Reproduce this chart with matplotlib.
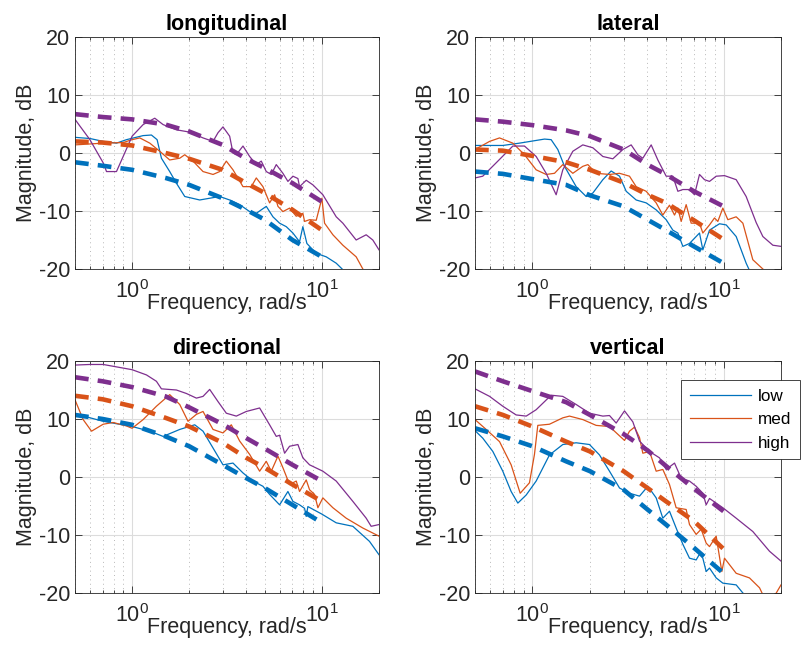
import matplotlib
matplotlib.use("Agg")
import matplotlib.pyplot as plt
from matplotlib.ticker import LogLocator, NullFormatter, FixedLocator

plt.rcParams['font.family'] = ['Liberation Sans', 'DejaVu Sans']
plt.rcParams['axes.unicode_minus'] = False

C_LOW = '#0072BD'
C_MED = '#D95319'
C_HIGH = '#7E2F8E'
GRAY = '#262626'

titles = ['longitudinal', 'lateral', 'directional', 'vertical']
series_names = ['low', 'med', 'high']

# model fits (thick dashed), shared frequency grid
model_f = [0.5, 0.7, 1, 1.5, 2, 3, 4, 5, 7, 10]
long_model_low = [-1.6, -2.2, -2.9, -4.3, -5.5, -7.8, -9.8, -11.5, -15.0, -17.9]
long_model_med = [2.0, 1.8, 1.3, 0.0, -1.0, -2.9, -5.2, -6.9, -9.8, -13.3]
long_model_high = [6.7, 6.2, 5.8, 4.9, 3.7, 1.4, -1.0, -2.6, -5.2, -8.4]
lat_model_low = [-3.2, -3.6, -4.5, -5.5, -7.3, -9.2, -11.5, -13.3, -16.1, -19.0]
lat_model_med = [0.6, 0.4, -0.5, -1.6, -2.9, -5.1, -7.2, -8.6, -11.6, -14.9]
lat_model_high = [5.8, 5.4, 4.8, 3.9, 2.9, 0.6, -2.0, -3.7, -6.6, -9.2]
dir_model_low = [10.7, 10.0, 9.0, 7.0, 5.3, 2.1, -0.2, -1.9, -4.8, -7.9]
dir_model_med = [14.0, 13.4, 12.2, 10.2, 8.7, 5.9, 3.3, 1.6, -1.3, -4.2]
dir_model_high = [17.2, 16.5, 15.5, 13.9, 12.0, 9.1, 6.7, 4.9, 2.1, -0.7]
vert_model_low = [8.4, 7.0, 5.3, 2.7, 1.0, -2.2, -5.6, -8.2, -12.2, -16.6]
vert_model_med = [12.2, 10.7, 8.7, 6.1, 4.4, 1.0, -1.9, -4.2, -7.6, -12.4]
vert_model_high = [18.2, 16.5, 14.8, 12.9, 10.7, 7.4, 4.6, 1.9, -2.0, -5.9]

# measured responses (thin lines)
long_low_f = [0.5, 0.599, 0.704, 0.827, 0.934, 1.143, 1.264, 1.354, 1.427, 1.578, 1.711, 1.894, 2.271, 2.563,
              2.893, 3.266, 3.687, 4.162, 4.512, 5.093, 5.522, 5.987, 6.491, 7.036, 7.627, 7.94, 8.337, 9.337,
              10.54, 11.9, 12.79, 14.0]
long_low_db = [2.7, 2.5, 2.0, 1.7, 2.3, 3.0, 3.1, 2.3, -0.9, -3.2, -5.2, -7.5, -8.1, -7.8,
               -7.5, -8.1, -8.9, -10.1, -10.4, -9.2, -11.0, -12.1, -12.7, -13.8, -15.3, -12.7, -15.6, -17.3,
               -17.9, -19.0, -20.0, -21.5]
long_med_f = [0.5, 0.704, 0.897, 1.0, 1.098, 1.239, 1.398, 1.578, 1.782, 1.894, 2.094, 2.364, 2.669, 2.893,
              3.136, 3.401, 3.839, 4.247, 4.512, 4.891, 5.303, 5.635, 5.868, 6.232, 6.758, 7.326, 7.94, 8.105,
              8.611, 9.337, 10.0, 10.33, 11.43, 12.9, 15.16, 16.44, 17.82]
long_med_db = [1.4, 1.7, 1.8, 2.3, 2.6, 1.7, 0.3, -1.2, -0.9, -0.3, -1.4, -3.2, -3.7, -3.2,
               -1.4, -2.9, -5.8, -5.8, -4.3, -5.8, -8.6, -7.2, -9.2, -10.1, -9.5, -10.9, -10.4, -11.8,
               -11.5, -11.6, -7.8, -12.1, -14.1, -15.9, -17.9, -20.0, -21.5]
long_high_f = [0.5, 0.599, 0.704, 0.733, 0.827, 0.897, 1.0, 1.143, 1.316, 1.456, 1.711, 2.012, 2.364, 2.669,
               2.836, 3.012, 3.266, 3.401, 3.54, 3.839, 4.162, 4.512, 4.793, 5.093, 5.411, 5.749, 6.232, 6.623,
               7.036, 7.476, 7.627, 8.27, 8.97, 10.12, 11.9, 12.9, 15.16, 17.12, 18.55, 20.0]
long_high_db = [5.8, 2.3, -1.7, -3.2, -3.2, -0.6, 2.9, 4.9, 6.0, 4.9, 4.0, 3.6, 2.6, 2.0,
                3.5, 4.5, 2.9, 0.0, -0.3, 1.2, -0.6, -2.0, -1.4, -3.2, -3.7, -2.0, -3.5, -4.9,
                -4.0, -4.4, -5.8, -4.7, -5.5, -7.2, -11.0, -12.1, -15.0, -14.1, -15.0, -16.7]

lat_low_f = [0.5, 0.699, 0.855, 1.156, 1.252, 1.357, 1.471, 1.693, 1.91, 2.07, 2.335, 2.581, 2.855, 3.094,
             3.489, 3.937, 4.441, 5.01, 5.429, 5.768, 6.126, 6.637, 7.487, 7.795, 8.446, 9.531, 10.33, 11.65,
             13.14, 13.57, 14.24]
lat_low_db = [1.3, 1.3, 1.7, 2.4, 2.3, 0.6, -2.3, -5.8, -7.5, -6.9, -4.6, -3.1, -4.0, -6.6,
              -8.1, -8.6, -9.8, -11.5, -13.3, -13.8, -16.1, -15.6, -13.8, -16.7, -13.3, -12.2, -12.4, -14.4,
              -19.0, -20.0, -21.5]
lat_med_f = [0.5, 0.596, 0.672, 0.789, 0.908, 1.045, 1.179, 1.304, 1.441, 1.626, 1.834, 1.949, 2.154, 2.53,
             2.855, 3.22, 3.489, 3.937, 4.441, 4.812, 5.215, 5.54, 5.768, 6.003, 6.376, 6.772, 7.487, 7.795,
             8.446, 8.973, 9.34, 9.92, 10.54, 11.65, 12.63, 14.24, 16.07, 17.41]
lat_med_db = [0.6, 2.0, 2.6, 1.7, -0.3, -2.9, -3.7, -3.5, -2.0, -3.5, -2.3, -2.0, -3.5, -3.7,
              -3.5, -4.0, -5.8, -6.6, -8.6, -10.7, -9.0, -10.7, -9.5, -11.8, -8.9, -12.1, -12.1, -13.8,
              -12.4, -11.2, -11.8, -9.5, -11.5, -11.0, -12.1, -18.4, -20.0, -21.0]
lat_high_f = [0.5, 0.549, 0.645, 0.789, 0.908, 1.045, 1.179, 1.33, 1.441, 1.626, 1.834, 2.07, 2.335, 2.634,
              2.972, 3.285, 3.56, 3.781, 4.182, 4.531, 5.01, 5.429, 5.768, 6.126, 6.637, 7.049, 7.487, 7.953,
              8.446, 9.155, 10.12, 11.65, 13.14, 14.83, 16.07, 18.13, 20.0]
lat_high_db = [-4.3, -4.0, -1.7, 1.2, 1.2, -0.6, -3.5, -7.2, -2.9, 0.3, 1.4, 0.9, -0.6, -1.0,
               0.6, 1.4, -0.3, -0.9, 1.4, -1.2, -4.0, -4.0, -6.6, -6.3, -6.3, -7.2, -3.7, -4.6,
               -4.9, -4.0, -3.9, -4.6, -7.5, -12.0, -14.4, -15.9, -16.1]

dir_low_f = [0.5, 0.704, 1.0, 1.239, 1.456, 1.782, 2.137, 2.364, 2.669, 3.012, 3.401, 3.839, 4.334, 4.891,
             5.303, 5.987, 6.623, 7.036, 7.627, 8.105, 8.27, 8.438, 10.0, 11.9, 14.56, 17.82, 20.0]
dir_low_db = [10.9, 9.6, 8.7, 7.9, 7.0, 8.2, 9.0, 7.9, 5.0, 2.1, 2.4, 0.7, -0.7, -1.6,
              -3.0, -4.8, -2.5, -4.2, -4.8, -5.4, -6.8, -5.1, -6.4, -7.9, -8.5, -11.1, -13.4]
dir_med_f = [0.5, 0.552, 0.611, 0.704, 0.794, 0.934, 1.0, 1.143, 1.343, 1.578, 1.782, 1.971, 2.181, 2.364,
             2.669, 3.012, 3.332, 3.687, 4.162, 4.698, 5.093, 5.411, 5.868, 6.232, 6.758, 7.326, 7.627, 8.27,
             8.611, 9.15, 9.527, 10.12, 11.43, 13.43, 16.44, 20.0]
dir_med_db = [13.3, 9.9, 7.9, 9.1, 9.4, 8.8, 8.4, 9.9, 12.2, 14.2, 12.5, 9.6, 10.8, 11.3,
              8.2, 7.6, 9.0, 6.2, 3.9, 1.0, 2.7, 1.0, 3.6, 1.6, -1.3, -0.7, -2.5, -0.5,
              -2.2, -3.0, -5.3, -3.6, -5.3, -7.1, -8.8, -10.2]
dir_high_f = [0.5, 0.599, 0.704, 1.0, 1.19, 1.343, 1.427, 1.711, 1.932, 2.181, 2.364, 2.563, 2.836, 3.136,
              3.54, 3.998, 4.698, 5.303, 5.749, 5.987, 6.361, 6.758, 7.476, 7.94, 8.611, 10.12, 11.9, 14.56,
              17.12, 18.18, 20.0]
dir_high_db = [19.3, 19.4, 19.4, 18.5, 17.6, 16.5, 15.2, 15.0, 14.4, 13.6, 13.9, 15.1, 13.0, 11.0,
               10.5, 11.3, 11.9, 9.0, 7.0, 7.2, 4.1, 5.3, 5.6, 3.3, 2.1, 1.0, -0.7, -4.2,
               -7.1, -8.5, -8.2]

vert_low_f = [0.5, 0.549, 0.62, 0.699, 0.773, 0.838, 0.927, 1.045, 1.227, 1.441, 1.693, 1.988, 2.243, 2.53,
              2.855, 3.22, 3.633, 4.017, 4.441, 4.812, 5.215, 5.651, 6.126, 6.637, 7.192, 7.487, 7.795, 8.114,
              8.446, 9.155, 9.92, 11.65, 12.63, 14.24]
vert_low_db = [8.0, 6.7, 4.4, 1.0, -2.5, -4.5, -3.1, -0.7, 3.8, 5.6, 5.9, 5.6, 3.8, 1.0,
               -1.9, -2.8, -3.3, -1.6, -3.6, -7.1, -5.9, -8.8, -11.6, -14.0, -14.3, -13.3, -14.0, -16.3,
               -15.7, -17.4, -18.3, -18.6, -20.0, -21.5]
vert_med_f = [0.5, 0.572, 0.672, 0.773, 0.862, 0.964, 1.024, 1.066, 1.227, 1.441, 1.562, 1.834, 2.154, 2.53,
              3.032, 3.22, 3.42, 3.633, 3.781, 4.099, 4.441, 4.812, 5.215, 5.651, 6.376, 6.637, 7.192, 7.641,
              8.114, 8.446, 9.155, 9.8, 10.12, 11.65, 13.68, 15.44, 16.07, 18.13, 20.0]
vert_med_db = [9.9, 8.2, 6.1, 2.1, -2.8, -1.0, 3.9, 8.9, 9.1, 10.2, 10.5, 9.9, 8.9, 8.7,
               6.3, 7.9, 8.6, 6.8, 4.1, 4.4, 1.0, 1.3, -1.3, -5.3, -5.6, -8.2, -9.9, -9.0,
               -11.4, -12.0, -10.2, -16.3, -14.0, -16.6, -17.4, -19.1, -20.3, -21.0, -18.6]
vert_high_f = [0.5, 0.596, 0.699, 0.821, 0.927, 1.045, 1.252, 1.441, 1.693, 1.988, 2.335, 2.53, 2.742, 3.032,
               3.353, 3.633, 4.099, 4.623, 5.01, 5.54, 6.003, 6.637, 7.192, 7.795, 8.114, 8.446, 9.92, 11.65,
               14.24, 17.41, 20.0]
vert_high_db = [15.2, 13.9, 12.2, 10.7, 10.5, 11.6, 14.1, 13.9, 12.5, 11.0, 10.5, 10.6, 9.3, 11.4,
                9.5, 6.2, 4.4, 3.3, 1.3, 2.4, -0.2, -0.7, -1.6, -2.8, -4.8, -3.7, -5.3, -7.1,
                -9.4, -12.8, -14.5]

measured = [
    [(long_low_f, long_low_db), (long_med_f, long_med_db), (long_high_f, long_high_db)],
    [(lat_low_f, lat_low_db), (lat_med_f, lat_med_db), (lat_high_f, lat_high_db)],
    [(dir_low_f, dir_low_db), (dir_med_f, dir_med_db), (dir_high_f, dir_high_db)],
    [(vert_low_f, vert_low_db), (vert_med_f, vert_med_db), (vert_high_f, vert_high_db)],
]
models = [
    [long_model_low, long_model_med, long_model_high],
    [lat_model_low, lat_model_med, lat_model_high],
    [dir_model_low, dir_model_med, dir_model_high],
    [vert_model_low, vert_model_med, vert_model_high],
]
colors = [C_LOW, C_MED, C_HIGH]

fig = plt.figure(figsize=(8.02, 6.45), dpi=100)
W, H = 802, 645
boxes = [(75, 37, 304, 232), (475, 37, 306, 232), (75, 361, 304, 232), (475, 361, 306, 232)]

axes = []
for k, (x0, y0, w, h) in enumerate(boxes):
    ax = fig.add_axes([x0 / W, 1 - (y0 + h) / H, w / W, h / H])
    axes.append(ax)
    for (f, db), c, name in zip(measured[k], colors, series_names):
        ax.plot(f, db, color=c, lw=0.9, label=name)
    for db, c in zip(models[k], colors):
        ax.plot(model_f, db, color=c, lw=3.3, ls=(0, (3.0, 2.0)))

    ax.set_xscale('log')
    ax.set_xlim(0.5, 20)
    ax.set_ylim(-20, 20)
    ax.set_yticks([-20, -10, 0, 10, 20])
    ax.xaxis.set_major_locator(FixedLocator([1, 10]))
    ax.xaxis.set_minor_locator(LogLocator(base=10, subs=range(2, 10), numticks=20))
    ax.xaxis.set_minor_formatter(NullFormatter())

    ax.grid(True, which='major', color='#dcdcdc', lw=0.8, ls='-')
    ax.grid(True, which='minor', axis='x', color='#b8b8b8', lw=0.7, ls=(0, (1, 3.5)))
    ax.set_axisbelow(True)

    ax.tick_params(which='both', direction='in', top=True, right=True, colors=GRAY,
                   labelsize=15.5, width=0.6)
    ax.tick_params(which='major', length=5)
    ax.tick_params(which='minor', length=2.5)
    ax.tick_params(axis='x', which='major', pad=8)
    for s in ax.spines.values():
        s.set_color(GRAY)
        s.set_linewidth(0.6)

    ax.set_title(titles[k], fontsize=15.5, fontweight='bold', pad=5)
    ax.set_xlabel('Frequency, rad/s', fontsize=15.5, color=GRAY, labelpad=-7)
    ax.set_ylabel('Magnitude, dB', fontsize=15.5, color=GRAY, labelpad=1)

leg = axes[3].legend(loc='upper right', bbox_to_anchor=(800 / W, 1 - 380 / H),
                     bbox_transform=fig.transFigure, fontsize=12.3, frameon=True,
                     fancybox=False, framealpha=1, edgecolor=GRAY, handlelength=3.6,
                     labelspacing=0.5, borderpad=0.5, handletextpad=0.4, borderaxespad=0)
leg.get_frame().set_linewidth(0.6)

fig.savefig('out.png', dpi=100)
